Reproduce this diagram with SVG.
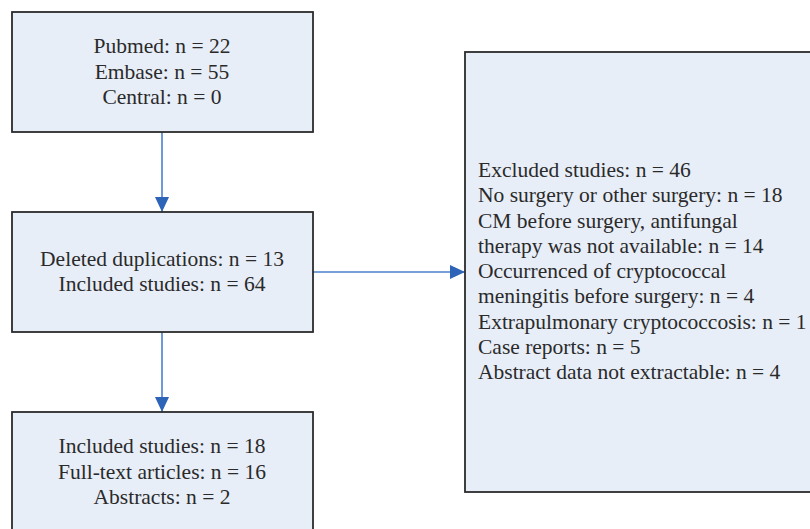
<svg xmlns="http://www.w3.org/2000/svg" width="810" height="529" viewBox="0 0 810 529">
<style>
.box{fill:#e8eef8;stroke:#2b2b2b;stroke-width:1.8}
.t{font-family:'Liberation Serif','Times New Roman',serif;font-size:21.5px;fill:#2a2a2a}
.c{text-anchor:middle}
.edge{stroke:#4a80cc;stroke-width:1.6;fill:none}
</style>
<defs>
<marker id="ah" markerWidth="15" markerHeight="14" refX="15" refY="7" orient="auto" markerUnits="userSpaceOnUse" viewBox="0 0 15 14">
<path d="M0,0 L15,7 L0,14 z" fill="#2e64b8"/>
</marker>
</defs>
<g id="connectors">
<line class="edge" x1="162" y1="132" x2="162" y2="212" marker-end="url(#ah)"/>
<line class="edge" x1="162" y1="332" x2="162" y2="412" marker-end="url(#ah)"/>
<line class="edge" x1="313" y1="272" x2="465" y2="272" marker-end="url(#ah)"/>
</g>
<g id="n1">
<rect class="box" x="12" y="12" width="301" height="120"/>
<text class="t c" x="162" y="53">Pubmed: n = 22</text>
<text class="t c" x="162" y="79">Embase: n = 55</text>
<text class="t c" x="162" y="104">Central: n = 0</text>
</g>
<g id="n2">
<rect class="box" x="12" y="212" width="301" height="120"/>
<text class="t c" x="162" y="266">Deleted duplications: n = 13</text>
<text class="t c" x="162" y="291">Included studies: n = 64</text>
</g>
<g id="n3">
<rect class="box" x="12" y="412" width="301" height="125"/>
<text class="t c" x="162" y="453">Included studies: n = 18</text>
<text class="t c" x="162" y="479">Full-text articles: n = 16</text>
<text class="t c" x="162" y="504">Abstracts: n = 2</text>
</g>
<g id="n4">
<rect class="box" x="465" y="52" width="360" height="440"/>
<text class="t" x="478" y="177">Excluded studies: n = 46</text>
<text class="t" x="478" y="202">No surgery or other surgery: n = 18</text>
<text class="t" x="478" y="228">CM before surgery, antifungal</text>
<text class="t" x="478" y="253">therapy was not available: n = 14</text>
<text class="t" x="478" y="278">Occurrenced of  cryptococcal</text>
<text class="t" x="478" y="303">meningitis before surgery: n = 4</text>
<text class="t" x="478" y="329">Extrapulmonary cryptococcosis: n = 1</text>
<text class="t" x="478" y="354">Case reports: n = 5</text>
<text class="t" x="478" y="379">Abstract data not extractable: n = 4</text>
</g>
</svg>
